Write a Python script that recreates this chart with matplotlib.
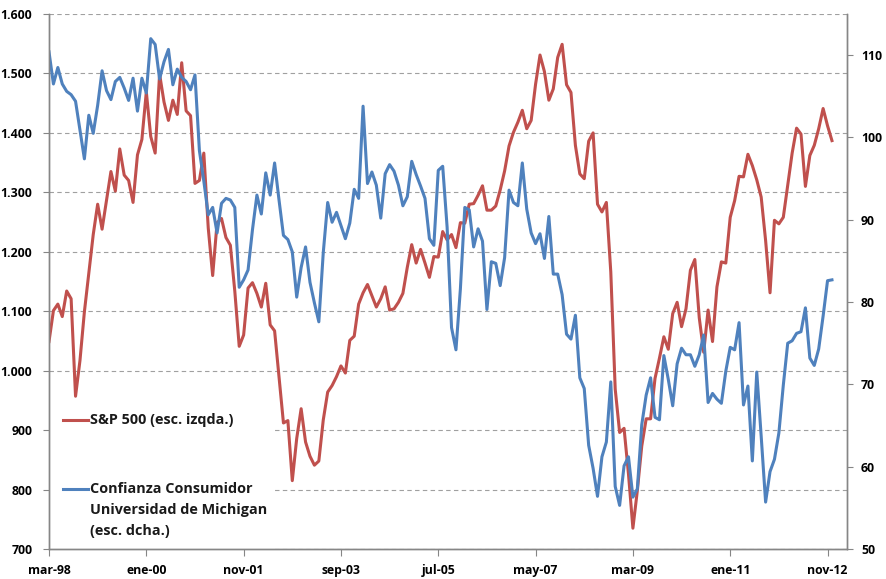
import numpy as np
import matplotlib
matplotlib.use("Agg")
import matplotlib.pyplot as plt
from matplotlib.lines import Line2D
from matplotlib.patches import Rectangle

plt.rcParams['font.family'] = ['Open Sans', 'DejaVu Sans']
plt.rcParams['font.weight'] = 'bold'

# month-end values, feb-98 .. nov-12
sp500 = [1049, 1101, 1112, 1091, 1134, 1121, 957, 1017, 1099, 1164, 1229,
         1280, 1238, 1286, 1335, 1302, 1373, 1329, 1320, 1283, 1363, 1389, 1469,
         1394, 1366, 1499, 1452, 1421, 1455, 1431, 1518, 1437, 1429, 1315, 1320,
         1366, 1240, 1160, 1249, 1256, 1224, 1211, 1134, 1041, 1060, 1139, 1148,
         1130, 1107, 1147, 1077, 1067, 990, 912, 916, 815, 886, 936, 880,
         856, 841, 848, 917, 964, 975, 990, 1008, 996, 1051, 1058, 1112,
         1131, 1145, 1126, 1107, 1121, 1141, 1102, 1104, 1115, 1130, 1174, 1212,
         1181, 1204, 1181, 1157, 1192, 1191, 1234, 1220, 1229, 1207, 1249, 1248,
         1280, 1281, 1295, 1311, 1270, 1270, 1277, 1304, 1336, 1378, 1401, 1418,
         1438, 1407, 1421, 1482, 1531, 1503, 1455, 1474, 1527, 1549, 1481, 1468,
         1379, 1331, 1323, 1386, 1400, 1280, 1267, 1283, 1166, 969, 896, 903,
         826, 735, 798, 873, 919, 919, 987, 1021, 1057, 1036, 1096, 1115,
         1074, 1104, 1169, 1187, 1089, 1031, 1102, 1049, 1141, 1183, 1181, 1258,
         1286, 1327, 1326, 1364, 1345, 1321, 1292, 1219, 1131, 1253, 1247, 1258,
         1312, 1366, 1408, 1398, 1310, 1362, 1379, 1407, 1441, 1412, 1387]

michigan = [110.4, 106.5, 108.5, 106.5, 105.6, 105.2, 104.4, 100.9, 97.4, 102.7, 100.5,
            103.9, 108.1, 105.7, 104.6, 106.8, 107.3, 106.0, 104.5, 107.2, 103.2, 107.2, 105.4,
            112.0, 111.3, 107.1, 109.2, 110.7, 106.4, 108.3, 107.3, 106.8, 105.8, 107.6, 98.4,
            94.7, 90.6, 91.5, 88.4, 92.0, 92.6, 92.4, 91.5, 81.8, 82.7, 83.9, 88.8,
            93.0, 90.7, 95.7, 93.0, 96.9, 92.4, 88.1, 87.6, 86.1, 80.6, 84.2, 86.7,
            82.4, 79.9, 77.6, 86.0, 92.1, 89.7, 90.9, 89.3, 87.7, 89.6, 93.7, 92.6,
            103.8, 94.4, 95.8, 94.2, 90.2, 95.6, 96.7, 95.9, 94.2, 91.7, 92.8, 97.1,
            95.5, 94.1, 92.6, 87.7, 86.9, 96.0, 96.5, 89.1, 76.9, 74.2, 81.6, 91.5,
            91.2, 86.7, 88.9, 87.4, 79.1, 84.9, 84.7, 82.0, 85.4, 93.6, 92.1, 91.7,
            96.9, 91.3, 88.4, 87.1, 88.3, 85.3, 90.4, 83.4, 83.4, 80.9, 76.1, 75.5,
            78.4, 70.8, 69.5, 62.6, 59.8, 56.4, 61.2, 63.0, 70.3, 57.6, 55.3, 60.1,
            61.2, 56.3, 57.3, 65.1, 68.7, 70.8, 66.0, 65.7, 73.5, 70.6, 67.4, 72.5,
            74.4, 73.6, 73.6, 72.2, 73.6, 76.0, 67.8, 68.9, 68.2, 67.7, 71.6, 74.5,
            74.2, 77.5, 67.5, 69.8, 60.7, 71.5, 63.7, 55.7, 59.4, 60.9, 64.1, 69.9,
            75.0, 75.3, 76.2, 76.4, 79.3, 73.2, 72.3, 74.3, 78.3, 82.6, 82.7]

tick_labels = ['mar-98', 'ene-00', 'nov-01', 'sep-03', 'jul-05',
               'may-07', 'mar-09', 'ene-11', 'nov-12']
tick_step = 22  # months between labels

label_sp = 'S&P 500 (esc. izqda.)'
label_mi = ['Confianza Consumidor', 'Universidad de Michigan', '(esc. dcha.)']

red = '#C0504D'
blue = '#4F81BD'
axis_grey = '#868686'

fig = plt.figure(figsize=(8.86, 5.79), dpi=100)
ax = fig.add_axes([49 / 886, 1 - 549 / 579, 798 / 886, 535 / 579])
ax2 = ax.twinx()

x = np.arange(len(sp500))
ax.plot(x, sp500, color=red, lw=2.2, zorder=2)
ax2.plot(x, michigan, color=blue, lw=2.2)

ax.set_xlim(0, 180.4)
ax.set_ylim(700, 1600)
ax2.set_ylim(50, 115)

left_ticks = list(range(700, 1601, 100))
ax.set_yticks(left_ticks)
ax.set_yticklabels([f"{v:,}".replace(',', '.') for v in left_ticks])
ax2.set_yticks(range(50, 111, 10))
ax.set_xticks(np.arange(len(tick_labels)) * tick_step)
ax.set_xticklabels(tick_labels)

ax.yaxis.grid(True, color='#A0A0A0', linestyle=(0, (4, 3)), lw=0.8)

for a in (ax, ax2):
    a.spines['top'].set_visible(False)
    for s in ('left', 'right', 'bottom'):
        a.spines[s].set_color(axis_grey)
        a.spines[s].set_linewidth(1)

ax.tick_params(axis='y', length=4, color=axis_grey, pad=8, labelsize=8.8, labelcolor='black')
ax.tick_params(axis='x', length=5, color=axis_grey, pad=6, labelsize=8.8, labelcolor='black')
ax2.tick_params(axis='y', length=4, color=axis_grey, pad=6, labelsize=8.8, labelcolor='black')

# legend box inside the plot, lower left
ax.add_patch(Rectangle((0, 0), 0.2795, 0.30, transform=ax.transAxes,
                       facecolor='white', edgecolor='none', zorder=1.8))
ax.add_line(Line2D([0.0175, 0.0489], [0.241, 0.241], transform=ax.transAxes,
                   color=red, lw=2.2, zorder=5))
ax.add_line(Line2D([0.0175, 0.0489], [0.112, 0.112], transform=ax.transAxes,
                   color=blue, lw=2.2, zorder=5))
ax.text(0.0514, 0.241, label_sp, transform=ax.transAxes, va='center', ha='left',
        fontsize=10.4, color='#1a1a1a', zorder=5)
for k, line in enumerate(label_mi):
    ax.text(0.0514, (60 - 20.8 * k) / 535, line, transform=ax.transAxes,
            va='center', ha='left', fontsize=10.4, color='#1a1a1a', zorder=5)

fig.savefig('out.png', dpi=100)
